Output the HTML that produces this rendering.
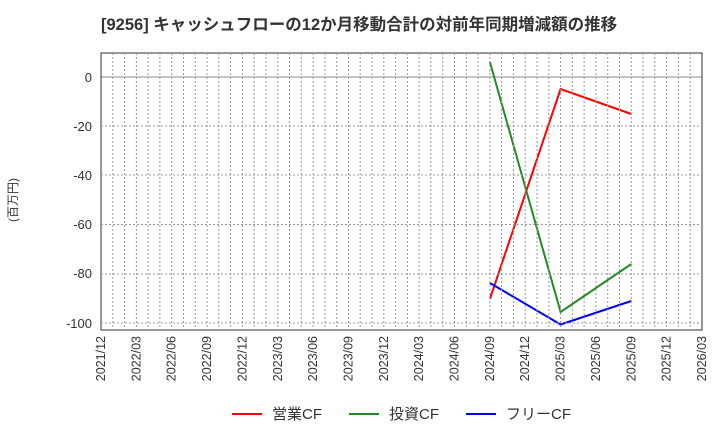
<!DOCTYPE html>
<html><head><meta charset="utf-8"><style>body{margin:0;background:#fff}svg{display:block}</style></head><body>
<svg width="720" height="440" xmlns="http://www.w3.org/2000/svg" font-family="Liberation Sans, Noto Sans CJK JP, sans-serif">
<text x="101" y="30" font-size="16.5" font-weight="bold" fill="#333">[9256]  キャッシュフローの12か月移動合計の対前年同期増減額の推移</text>
<g stroke="#999" stroke-dasharray="2,2" stroke-width="1" id="g">
</g>
<line x1="101" y1="77" x2="702" y2="77" stroke="#888" stroke-width="1"/>
<rect x="101" y="53" width="601" height="277" fill="none" stroke="#333" stroke-width="1"/>
<g font-size="13" fill="#333" text-anchor="end">
<text x="92" y="82">0</text><text x="92" y="131">-20</text><text x="92" y="180">-40</text><text x="92" y="229">-60</text><text x="92" y="278">-80</text><text x="92" y="328">-100</text>
</g>
<text transform="translate(17,200) rotate(-90)" font-size="12" fill="#333" text-anchor="middle">(百万円)</text>
<g font-size="12.5" fill="#333" text-anchor="end">
<text transform="translate(105,336) rotate(-90)">2021/12</text><text transform="translate(140.4,336) rotate(-90)">2022/03</text><text transform="translate(175.7,336) rotate(-90)">2022/06</text><text transform="translate(211.1,336) rotate(-90)">2022/09</text><text transform="translate(246.4,336) rotate(-90)">2022/12</text><text transform="translate(281.8,336) rotate(-90)">2023/03</text><text transform="translate(317.1,336) rotate(-90)">2023/06</text><text transform="translate(352.5,336) rotate(-90)">2023/09</text><text transform="translate(387.8,336) rotate(-90)">2023/12</text><text transform="translate(423.2,336) rotate(-90)">2024/03</text><text transform="translate(458.5,336) rotate(-90)">2024/06</text><text transform="translate(493.9,336) rotate(-90)">2024/09</text><text transform="translate(529.2,336) rotate(-90)">2024/12</text><text transform="translate(564.6,336) rotate(-90)">2025/03</text><text transform="translate(599.9,336) rotate(-90)">2025/06</text><text transform="translate(635.3,336) rotate(-90)">2025/09</text><text transform="translate(670.6,336) rotate(-90)">2025/12</text><text transform="translate(706,336) rotate(-90)">2026/03</text>
</g>
<g fill="none" stroke-width="2">
<polyline points="489.9,299 560.6,89 631.3,114" stroke="#f00"/>
<polyline points="489.9,62 560.6,312 631.3,264" stroke="#228b22"/>
<polyline points="489.9,283 560.6,324.5 631.3,301" stroke="#00f"/>
</g>
<g font-size="15" fill="#333">
<line x1="232" y1="414" x2="262" y2="414" stroke="#f00" stroke-width="2"/><text x="272" y="419">営業CF</text>
<line x1="349" y1="414" x2="379" y2="414" stroke="#228b22" stroke-width="2"/><text x="389" y="419">投資CF</text>
<line x1="466" y1="414" x2="496" y2="414" stroke="#00f" stroke-width="2"/><text x="506" y="419">フリーCF</text>
</g>
<g stroke="#999" stroke-dasharray="2,2" stroke-width="1">
<path d="M112.8 53V330M124.6 53V330M136.4 53V330M148.1 53V330M159.9 53V330M171.7 53V330M183.5 53V330M195.3 53V330M207.1 53V330M218.8 53V330M230.6 53V330M242.4 53V330M254.2 53V330M266 53V330M277.8 53V330M289.5 53V330M301.3 53V330M313.1 53V330M324.9 53V330M336.7 53V330M348.5 53V330M360.2 53V330M372 53V330M383.8 53V330M395.6 53V330M407.4 53V330M419.2 53V330M430.9 53V330M442.7 53V330M454.5 53V330M466.3 53V330M478.1 53V330M489.9 53V330M501.6 53V330M513.4 53V330M525.2 53V330M537 53V330M548.8 53V330M560.6 53V330M572.3 53V330M584.1 53V330M595.9 53V330M607.7 53V330M619.5 53V330M631.3 53V330M643 53V330M654.8 53V330M666.6 53V330M678.4 53V330M690.2 53V330"/>
<path d="M101 126H702M101 175H702M101 224.5H702M101 274H702M101 323H702"/>
</g>
</svg>
</body></html>
